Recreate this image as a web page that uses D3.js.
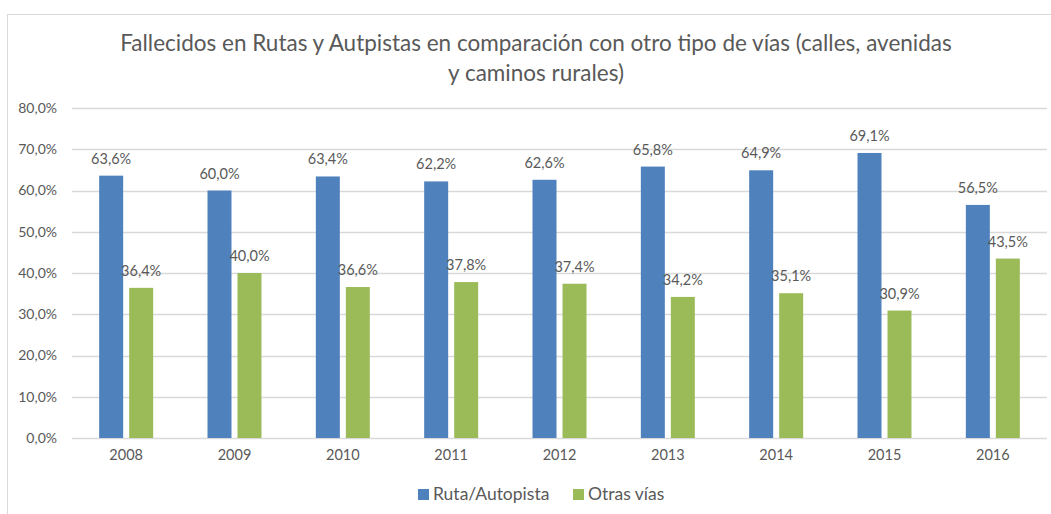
<!DOCTYPE html>
<html>
<head>
<meta charset="utf-8">
<script src="https://cdn.jsdelivr.net/npm/d3@7"></script>
<style>
  html, body { margin: 0; padding: 0; background: #fff; }
  svg { display: block; }
  text { font-family: Lato, "Open Sans", sans-serif; fill: #595959; }
</style>
</head>
<body>
<svg id="chart" width="1051" height="514"></svg>
<script>
(function () {
const years = ["2008", "2009", "2010", "2011", "2012", "2013", "2014", "2015", "2016"];
const seriesNames = ["Ruta/Autopista", "Otras vías"];
const rutaAutopista = [63.6, 60.0, 63.4, 62.2, 62.6, 65.8, 64.9, 69.1, 56.5];
const otrasVias = [36.4, 40.0, 36.6, 37.8, 37.4, 34.2, 35.1, 30.9, 43.5];
const yTicks = [0, 10, 20, 30, 40, 50, 60, 70, 80];
const titleLines = ["Fallecidos en Rutas y Autpistas en comparación con otro tipo de vías (calles, avenidas", "y caminos rurales)"];
const colors = ["#4F81BD", "#9BBB59"];

const svg = d3.select("#chart");
const fmt = v => d3.format(".1f")(v).replace(".", ",") + "%";

svg.append("rect").attr("x", 7.5).attr("y", 14.5).attr("width", 1100).attr("height", 600)
  .attr("fill", "#fff").attr("stroke", "#D9D9D9").attr("stroke-width", 1);

const mLeft = 72, mRight = 1047, mTop = 108, mBottom = 438;
const x0 = d3.scaleBand().domain(years).range([mLeft, mRight]).padding(0);
const groupW = 54;
const x1 = d3.scaleBand().domain(seriesNames).range([0, groupW]).paddingInner(0.2).paddingOuter(0);
const y = d3.scaleLinear().domain([0, 80]).range([mBottom, mTop]);

svg.append("g").selectAll("line").data(yTicks).join("line")
  .attr("x1", mLeft).attr("x2", mRight)
  .attr("y1", d => Math.round(y(d)) + 0.5).attr("y2", d => Math.round(y(d)) + 0.5)
  .attr("stroke", "#D9D9D9").attr("stroke-width", 1.3);

const yAxis = d3.axisLeft(y).tickValues(yTicks).tickSize(0).tickPadding(0).tickFormat(fmt);
const gy = svg.append("g").attr("transform", `translate(57,0)`).call(yAxis);
gy.select(".domain").remove();
gy.selectAll("text").attr("font-size", 14).style("font-family", "Lato, sans-serif").attr("fill", "#595959");

const xAxis = d3.axisBottom(x0).tickSize(0).tickPadding(0);
const gx = svg.append("g").attr("transform", `translate(0,${mBottom + 12})`).call(xAxis);
gx.select(".domain").remove();
gx.selectAll("text").attr("font-size", 14.5).style("font-family", "Lato, sans-serif").attr("fill", "#595959");

const data = years.map((yr, i) => ({ year: yr, vals: [
  { s: seriesNames[0], v: rutaAutopista[i], c: colors[0] },
  { s: seriesNames[1], v: otrasVias[i], c: colors[1] }
]}));

const groups = svg.append("g").selectAll("g").data(data).join("g")
  .attr("transform", d => `translate(${x0(d.year) + x0.bandwidth() / 2 - groupW / 2},0)`);

groups.selectAll("rect").data(d => d.vals).join("rect")
  .attr("x", d => x1(d.s)).attr("width", x1.bandwidth())
  .attr("y", d => y(d.v)).attr("height", d => y(0) - y(d.v))
  .attr("fill", d => d.c);

groups.selectAll("text.lbl").data(d => d.vals).join("text").attr("class", "lbl")
  .attr("x", d => x1(d.s) + x1.bandwidth() / 2)
  .attr("y", d => y(d.v) - 12)
  .attr("text-anchor", "middle").attr("font-size", 14.5)
  .text(d => fmt(d.v));

svg.append("g").selectAll("text").data(titleLines).join("text")
  .attr("x", 536).attr("y", (d, i) => 51 + i * 30)
  .attr("text-anchor", "middle").attr("font-size", 22.5)
  .text(d => d);

const legendItems = [
  { name: seriesNames[0], color: colors[0], x: 418 },
  { name: seriesNames[1], color: colors[1], x: 573 }
];
const li = svg.append("g").selectAll("g").data(legendItems).join("g")
  .attr("transform", d => `translate(${d.x},489)`);
li.append("rect").attr("width", 11).attr("height", 11).attr("fill", d => d.color);
li.append("text").attr("x", 15).attr("y", 11).attr("font-size", 17.5).text(d => d.name);
})();
</script>
</body>
</html>
